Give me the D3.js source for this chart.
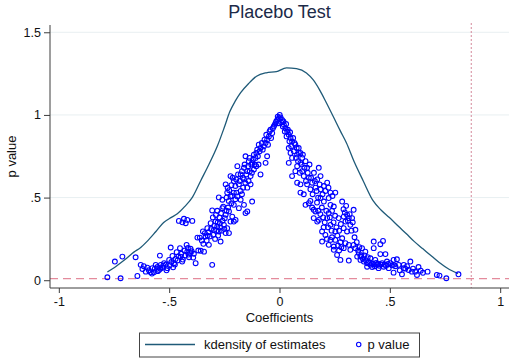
<!DOCTYPE html>
<html>
<head>
<meta charset="utf-8">
<script src="https://cdn.jsdelivr.net/npm/d3@7/dist/d3.min.js"></script>
<style>
  html, body { margin: 0; padding: 0; background: #ffffff; }
  svg { display: block; }
  text { font-family: "Liberation Sans", Arial, Helvetica, sans-serif; }
</style>
</head>
<body>
<svg id="chart" width="512" height="362"></svg>
<script>
// ---------- DATA ----------
const titleText = "Placebo Test";
const xLabel = "Coefficients";
const yLabel = "p value";
const xTicks = [-1, -0.5, 0, 0.5, 1];
const xTickLabels = ["-1", "-.5", "0", ".5", "1"];
const yTicks = [0, 0.5, 1, 1.5];
const yTickLabels = ["0", ".5", "1", "1.5"];
const legendLabels = ["kdensity of estimates", "p value"];
const pThreshold = 0.01;      // horizontal dashed reference line
const trueCoefficient = 0.869; // vertical dotted reference line

// kernel density of placebo estimates: [coefficient, density]
const kdensityCurve = [
  [-0.780,0.050],[-0.740,0.085],[-0.700,0.125],[-0.660,0.170],[-0.629,0.198],
  [-0.600,0.235],[-0.560,0.295],[-0.525,0.349],[-0.490,0.380],[-0.463,0.402],
  [-0.430,0.445],[-0.395,0.501],[-0.357,0.602],[-0.320,0.700],[-0.282,0.810],
  [-0.250,0.925],[-0.225,1.020],[-0.200,1.085],[-0.176,1.135],[-0.140,1.190],
  [-0.104,1.234],[-0.060,1.255],[-0.014,1.262],[0.032,1.285],[0.077,1.280],
  [0.122,1.254],[0.152,1.213],[0.181,1.153],[0.210,1.080],[0.243,0.992],
  [0.275,0.905],[0.303,0.832],[0.340,0.712],[0.379,0.602],[0.424,0.481],
  [0.460,0.425],[0.498,0.379],[0.540,0.325],[0.575,0.281],[0.610,0.235],
  [0.650,0.190],[0.690,0.145],[0.724,0.107],[0.770,0.065],[0.809,0.040]
];

// placebo estimates: [coefficient, p value]
const placeboPoints = [
  // far-left tail
  [-0.780,0.018],[-0.746,0.113],[-0.720,0.012],[-0.712,0.143],[-0.652,0.139],[-0.644,0.026],
  [-0.629,0.093],[-0.621,0.068],[-0.606,0.052],[-0.599,0.076],[-0.584,0.048],[-0.576,0.073],
  [-0.569,0.048],[-0.561,0.093],[-0.546,0.062],[-0.542,0.149],[-0.538,0.093],[-0.531,0.076],
  [-0.523,0.103],[-0.508,0.073],[-0.500,0.123],[-0.493,0.198],[-0.485,0.147],[-0.478,0.103],
  [-0.471,0.129],[-0.466,0.170],[-0.456,0.359],[-0.451,0.194],[-0.448,0.143],[-0.441,0.113],
  [-0.433,0.372],[-0.425,0.345],[-0.421,0.214],[-0.418,0.173],[-0.410,0.139],[-0.403,0.190],
  [-0.395,0.359],[-0.391,0.137],[-0.380,0.103],[-0.372,0.258],[-0.361,0.258],[-0.357,0.178],
  [-0.347,0.295],[-0.342,0.173],[-0.335,0.264],[-0.327,0.315],[-0.320,0.214],[-0.312,0.345],
  [-0.305,0.093],[-0.305,0.422],[-0.297,0.305],[-0.290,0.355],[-0.282,0.325],[-0.282,0.420],
  [-0.275,0.295],[-0.275,0.501],
  [-0.615,0.085],[-0.592,0.060],[-0.578,0.040],[-0.565,0.070],[-0.553,0.080],[-0.552,0.055],
  [-0.540,0.070],[-0.527,0.088],[-0.515,0.095],[-0.512,0.060],[-0.497,0.090],[-0.490,0.110],
  [-0.482,0.078],[-0.474,0.095],[-0.462,0.120],[-0.458,0.145],[-0.445,0.160],[-0.438,0.125],
  [-0.430,0.180],[-0.428,0.150],[-0.415,0.195],[-0.412,0.155],[-0.405,0.165],[-0.398,0.175],
  [-0.388,0.160],[-0.368,0.180],[-0.440,0.350],[-0.418,0.365],
  [-0.352,0.240],[-0.338,0.285],[-0.330,0.240],[-0.322,0.290],[-0.316,0.265],[-0.310,0.310],
  [-0.300,0.275],[-0.295,0.330],[-0.292,0.250],[-0.286,0.300],[-0.280,0.350],[-0.278,0.270],
  [-0.272,0.380],[-0.268,0.320],[-0.265,0.405],[-0.262,0.300],[-0.258,0.360],[-0.255,0.445],
  [-0.250,0.310],[-0.345,0.220],[-0.326,0.270],[-0.302,0.380],[-0.288,0.395],[-0.270,0.345],
  [-0.248,0.375],[-0.240,0.420],[-0.233,0.440],[-0.218,0.465],
  [-0.267,0.234],[-0.259,0.487],[-0.259,0.436],[-0.252,0.335],[-0.244,0.396],[-0.244,0.285],
  [-0.237,0.315],[-0.229,0.416],[-0.229,0.285],[-0.222,0.355],[-0.222,0.507],[-0.214,0.385],
  [-0.207,0.456],[-0.207,0.355],[-0.199,0.365],[-0.191,0.507],[-0.184,0.436],[-0.176,0.487],
  [-0.161,0.456],[-0.154,0.406],[-0.146,0.416],[-0.124,0.476],
  // left branch, upper part
  [-0.244,0.580],[-0.237,0.530],[-0.222,0.630],[-0.207,0.600],[-0.207,0.530],[-0.191,0.690],
  [-0.184,0.580],[-0.176,0.640],[-0.176,0.540],[-0.161,0.680],[-0.161,0.610],[-0.154,0.750],
  [-0.146,0.660],[-0.146,0.560],[-0.139,0.720],[-0.131,0.630],[-0.131,0.580],[-0.124,0.710],
  [-0.116,0.760],[-0.116,0.670],[-0.109,0.740],[-0.101,0.790],[-0.086,0.800],[-0.086,0.640],
  [-0.071,0.810],[-0.063,0.830],[-0.063,0.710],[-0.056,0.850],[-0.056,0.750],[-0.048,0.870],
  [-0.041,0.910],[-0.033,0.890],[-0.026,0.930],[-0.018,0.950],[-0.010,0.970],[-0.003,0.980],
  [0.001,1.000],
  [-0.235,0.560],[-0.228,0.545],[-0.218,0.575],[-0.212,0.620],[-0.200,0.570],[-0.196,0.610],
  [-0.188,0.640],[-0.180,0.600],[-0.170,0.660],[-0.166,0.620],[-0.158,0.700],[-0.150,0.640],
  [-0.142,0.690],[-0.136,0.740],[-0.128,0.700],[-0.120,0.730],[-0.112,0.700],[-0.105,0.770],
  [-0.098,0.750],[-0.094,0.820],[-0.090,0.780],[-0.080,0.830],[-0.076,0.790],[-0.068,0.850],
  [-0.060,0.880],[-0.052,0.820],[-0.045,0.900],[-0.038,0.860],[-0.030,0.920],[-0.022,0.940],
  [-0.015,0.960],[-0.008,0.990],[-0.005,0.950],[-0.240,0.500],[-0.230,0.480],[-0.215,0.510],
  [-0.200,0.490],[-0.195,0.530],[-0.170,0.520],[-0.165,0.560],[-0.155,0.590],[-0.140,0.600],
  [-0.135,0.660],[-0.125,0.650],[-0.105,0.690],[-0.095,0.700],
  // right branch, upper part
  [0.012,0.970],[0.020,0.940],[0.027,0.920],[0.035,0.900],[0.042,0.880],[0.042,0.800],
  [0.042,0.710],[0.050,0.860],[0.050,0.770],[0.057,0.840],[0.057,0.740],[0.057,0.630],
  [0.072,0.820],[0.072,0.660],[0.080,0.760],[0.080,0.690],[0.080,0.590],[0.087,0.800],
  [0.095,0.770],[0.095,0.710],[0.095,0.580],[0.095,0.530],[0.103,0.740],[0.103,0.660],
  [0.110,0.630],[0.110,0.520],[0.125,0.680],[0.125,0.580],[0.133,0.620],[0.140,0.550],
  [0.148,0.590],[0.163,0.560],[0.171,0.610],[0.178,0.680],[0.186,0.630],[0.186,0.550],
  [0.201,0.570],[0.216,0.590],[0.231,0.530],[0.253,0.530],
  [0.005,0.985],[0.008,0.955],[0.015,0.930],[0.018,0.960],[0.024,0.900],[0.030,0.945],
  [0.032,0.870],[0.038,0.910],[0.045,0.840],[0.048,0.895],[0.053,0.810],[0.062,0.860],
  [0.065,0.780],[0.068,0.830],[0.075,0.740],[0.078,0.800],[0.084,0.720],[0.088,0.770],
  [0.092,0.650],[0.100,0.700],[0.106,0.760],[0.113,0.680],[0.118,0.720],[0.120,0.600],
  [0.128,0.650],[0.136,0.700],[0.143,0.620],[0.150,0.520],[0.156,0.650],[0.160,0.600],
  [0.168,0.540],[0.175,0.500],[0.182,0.580],[0.195,0.520],[0.208,0.540],[0.222,0.560],
  [0.240,0.510],
  // right branch, middle
  [0.118,0.456],[0.133,0.466],[0.155,0.426],[0.163,0.416],[0.186,0.497],[0.201,0.476],
  [0.223,0.497],[0.231,0.456],[0.246,0.446],[0.155,0.376],[0.171,0.355],[0.178,0.365],
  [0.216,0.376],[0.223,0.406],[0.231,0.335],[0.268,0.376],[0.193,0.295],[0.208,0.274],
  [0.193,0.234],[0.231,0.244],[0.253,0.244],[0.223,0.214],[0.246,0.204],[0.246,0.184],
  [0.261,0.153],[0.253,0.295],
  [0.140,0.480],[0.148,0.440],[0.170,0.470],[0.176,0.420],[0.185,0.400],[0.192,0.440],
  [0.198,0.380],[0.205,0.350],[0.212,0.420],[0.220,0.320],[0.228,0.380],[0.236,0.300],
  [0.238,0.420],[0.245,0.350],[0.252,0.390],[0.258,0.320],[0.262,0.270],[0.270,0.300],
  [0.276,0.230],[0.278,0.340],[0.215,0.250],[0.238,0.260],[0.265,0.210],[0.270,0.180],
  [0.280,0.200],[0.200,0.320],
  // right tail
  [0.284,0.476],[0.291,0.385],[0.306,0.396],[0.314,0.376],[0.299,0.355],[0.329,0.376],
  [0.321,0.335],[0.336,0.426],[0.291,0.315],[0.344,0.305],[0.306,0.295],[0.284,0.254],
  [0.299,0.224],[0.314,0.214],[0.336,0.214],[0.291,0.194],[0.321,0.184],[0.344,0.194],
  [0.359,0.164],[0.374,0.194],[0.389,0.173],[0.352,0.143],[0.367,0.123],[0.382,0.113],
  [0.397,0.103],[0.412,0.133],[0.427,0.194],[0.457,0.218],[0.469,0.238],[0.457,0.158],
  [0.480,0.158],[0.434,0.123],[0.412,0.093],[0.397,0.082],[0.427,0.097],[0.442,0.093],
  [0.465,0.103],[0.472,0.082],[0.487,0.113],[0.502,0.103],[0.517,0.123],[0.532,0.127],
  [0.517,0.093],[0.495,0.073],[0.449,0.073],[0.517,0.046],[0.540,0.093],[0.563,0.093],
  [0.563,0.073],[0.593,0.113],[0.585,0.062],[0.600,0.052],[0.615,0.052],[0.623,0.032],
  [0.555,0.036],[0.671,0.052],[0.713,0.032],[0.725,0.028],[0.756,0.012],[0.811,0.036],
  [0.276,0.123],[0.314,0.119],[0.367,0.143],[0.427,0.234],
  [0.290,0.430],[0.296,0.410],[0.302,0.450],[0.310,0.360],[0.318,0.400],[0.326,0.300],
  [0.332,0.350],[0.340,0.260],[0.350,0.230],[0.356,0.180],[0.362,0.200],[0.370,0.150],
  [0.378,0.130],[0.385,0.150],[0.392,0.120],[0.400,0.140],[0.405,0.110],[0.418,0.100],
  [0.420,0.080],[0.432,0.085],[0.438,0.105],[0.447,0.100],[0.452,0.088],[0.460,0.095],
  [0.477,0.095],[0.483,0.088],[0.492,0.098],[0.510,0.090],[0.525,0.085],[0.545,0.060],
  [0.570,0.070],[0.578,0.085],[0.605,0.070],[0.640,0.058],[0.650,0.045],[0.630,0.080]
];

// ---------- LAYOUT ----------
const svg = d3.select("#chart");
const plot = { left: 50, right: 509, top: 25, bottom: 288 };

const x = d3.scaleLinear().domain([-1.04, 1.04]).range([plot.left, plot.right]);
const y = d3.scaleLinear().domain([-0.047, 1.544]).range([plot.bottom, plot.top]);

const axisColor = "#3c3c3c";
const textColor = "#111111";
const gridColor = "#e8eff1";
const curveColor = "#1f5a78";
const pointColor = "#0000ff";
const refColor = "#e48b9c";

// grid lines
svg.append("g")
  .selectAll("line")
  .data(yTicks.filter(d => d > 0))
  .join("line")
  .attr("x1", plot.left).attr("x2", plot.right)
  .attr("y1", d => y(d)).attr("y2", d => y(d))
  .attr("stroke", gridColor).attr("stroke-width", 1);

// reference lines
svg.append("line")
  .attr("x1", plot.left).attr("x2", plot.right)
  .attr("y1", y(pThreshold)).attr("y2", y(pThreshold))
  .attr("stroke", refColor).attr("stroke-width", 1.2)
  .attr("stroke-dasharray", "8,5");

svg.append("line")
  .attr("x1", x(trueCoefficient)).attr("x2", x(trueCoefficient))
  .attr("y1", plot.top - 2).attr("y2", plot.bottom)
  .attr("stroke", "#d4889a").attr("stroke-width", 1)
  .attr("stroke-dasharray", "2,2");

// kdensity curve
const line = d3.line()
  .x(d => x(d[0]))
  .y(d => y(d[1]))
  .curve(d3.curveMonotoneX);

svg.append("path")
  .datum(kdensityCurve)
  .attr("d", line)
  .attr("fill", "none")
  .attr("stroke", curveColor)
  .attr("stroke-width", 1.3);

// scatter points
svg.append("g")
  .selectAll("circle")
  .data(placeboPoints)
  .join("circle")
  .attr("cx", d => x(d[0]))
  .attr("cy", d => y(d[1]))
  .attr("r", 2.4)
  .attr("fill", "none")
  .attr("stroke", pointColor)
  .attr("stroke-width", 1.1);

// axes
const yAxis = d3.axisLeft(y)
  .tickValues(yTicks)
  .tickFormat((d, i) => yTickLabels[i])
  .tickSize(6).tickPadding(3);
const gy = svg.append("g")
  .attr("transform", `translate(${plot.left},0)`)
  .call(yAxis);
gy.select(".domain").remove();
gy.append("line")
  .attr("x1", 0).attr("x2", 0)
  .attr("y1", plot.top).attr("y2", plot.bottom)
  .attr("stroke", axisColor);
gy.selectAll(".tick line").attr("stroke", axisColor);
gy.selectAll(".tick text")
  .attr("fill", textColor)
  .style("font-size", "12.5px")
  .style("font-family", '"Liberation Sans", Arial, sans-serif');

const xAxis = d3.axisBottom(x)
  .tickValues(xTicks)
  .tickFormat((d, i) => xTickLabels[i])
  .tickSize(5).tickPadding(4);
const gx = svg.append("g")
  .attr("transform", `translate(0,${plot.bottom})`)
  .call(xAxis);
gx.select(".domain").remove();
gx.append("line")
  .attr("x1", plot.left).attr("x2", plot.right)
  .attr("y1", 0).attr("y2", 0)
  .attr("stroke", axisColor);
gx.selectAll(".tick line").attr("stroke", axisColor);
gx.selectAll(".tick text")
  .attr("fill", textColor)
  .style("font-size", "12.5px")
  .style("font-family", '"Liberation Sans", Arial, sans-serif');

// title and axis labels
svg.append("text")
  .attr("x", x(0)).attr("y", 18)
  .attr("text-anchor", "middle")
  .attr("fill", "#1c2a48")
  .style("font-size", "18px")
  .text(titleText);

svg.append("text")
  .attr("x", x(0)).attr("y", 322)
  .attr("text-anchor", "middle")
  .attr("fill", textColor)
  .style("font-size", "13px")
  .text(xLabel);

svg.append("text")
  .attr("transform", `translate(16,${(plot.top + plot.bottom) / 2}) rotate(-90)`)
  .attr("text-anchor", "middle")
  .attr("fill", textColor)
  .style("font-size", "13px")
  .text(yLabel);

// legend
const legend = svg.append("g");
legend.append("rect")
  .attr("x", 139.5).attr("y", 333)
  .attr("width", 280).attr("height", 24)
  .attr("fill", "#ffffff")
  .attr("stroke", "#444444").attr("stroke-width", 1);
legend.append("line")
  .attr("x1", 145).attr("x2", 195)
  .attr("y1", 344.5).attr("y2", 344.5)
  .attr("stroke", curveColor).attr("stroke-width", 1.3);
legend.append("text")
  .attr("x", 204).attr("y", 349)
  .attr("fill", textColor)
  .style("font-size", "13px")
  .text(legendLabels[0]);
legend.append("circle")
  .attr("cx", 358.7).attr("cy", 344.5).attr("r", 2.2)
  .attr("fill", "none").attr("stroke", pointColor).attr("stroke-width", 1.1);
legend.append("text")
  .attr("x", 367.5).attr("y", 349)
  .attr("fill", textColor)
  .style("font-size", "13px")
  .text(legendLabels[1]);
</script>
</body>
</html>
